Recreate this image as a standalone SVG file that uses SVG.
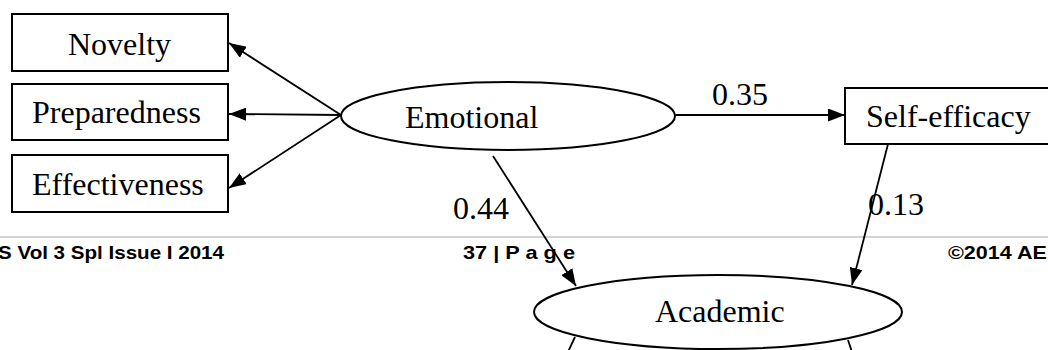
<svg xmlns="http://www.w3.org/2000/svg" width="1048" height="350" viewBox="0 0 1048 350">
<style>
.n{fill:#fff;stroke:#000;stroke-width:2}
.t{font-family:"Liberation Serif","Times New Roman",serif;font-size:32px;fill:#000}
.c{stroke:#000;stroke-width:1.8;fill:none;marker-end:url(#ah)}
.f{font-family:"Liberation Sans Narrow","Liberation Sans",Arial,sans-serif;font-weight:bold;font-size:19px;fill:#000}
</style>
<defs>
<marker id="ah" markerWidth="17" markerHeight="13" refX="17" refY="6.5" orient="auto" markerUnits="userSpaceOnUse">
<path d="M0,0 L17,6.5 L0,13 Z" fill="#000"/>
</marker>
</defs>
<rect x="0" y="0" width="1048" height="350" fill="#fff"/>
<g id="footer">
<line x1="0" y1="237" x2="1048" y2="237" stroke="#d4d4d4" stroke-width="2"/>
<text class="f" x="-2" y="259" textLength="226" lengthAdjust="spacingAndGlyphs">S Vol 3 Spl Issue I  2014</text>
<text class="f" x="463" y="259" textLength="112" lengthAdjust="spacingAndGlyphs">37 | P a g e</text>
<text class="f" x="948" y="259" textLength="112" lengthAdjust="spacingAndGlyphs">©2014 AEF</text>
</g>
<g id="novelty"><rect class="n" x="12" y="14" width="216" height="57"/><text class="t" x="68" y="55">Novelty</text></g>
<g id="preparedness"><rect class="n" x="12" y="84" width="216" height="56"/><text class="t" x="32" y="123">Preparedness</text></g>
<g id="effectiveness"><rect class="n" x="12" y="155" width="216" height="57"/><text class="t" x="32" y="195">Effectiveness</text></g>
<g id="emotional"><ellipse class="n" cx="508" cy="116" rx="167" ry="34"/><text class="t" x="405" y="128">Emotional</text></g>
<g id="selfefficacy"><rect class="n" x="845" y="88" width="215" height="56"/><text class="t" x="866" y="127">Self-efficacy</text></g>
<g id="academic"><ellipse class="n" cx="718" cy="312" rx="184" ry="37"/><text class="t" x="655" y="322">Academic</text></g>
<g id="connectors">
<line class="c" x1="341" y1="115" x2="229" y2="43"/>
<line class="c" x1="341" y1="115" x2="229" y2="114"/>
<line class="c" x1="341" y1="115" x2="229" y2="188"/>
<line class="c" x1="675" y1="115" x2="845" y2="115"/>
<line class="c" x1="493" y1="156" x2="576" y2="286"/>
<line class="c" x1="888" y1="144" x2="852" y2="285"/>
<line x1="575" y1="337" x2="568" y2="352" stroke="#000" stroke-width="1.8"/>
<line x1="848" y1="340" x2="852" y2="352" stroke="#000" stroke-width="1.8"/>
<text class="t" x="712" y="105">0.35</text>
<text class="t" x="453" y="219">0.44</text>
<text class="t" x="868" y="215">0.13</text>
</g>
</svg>
